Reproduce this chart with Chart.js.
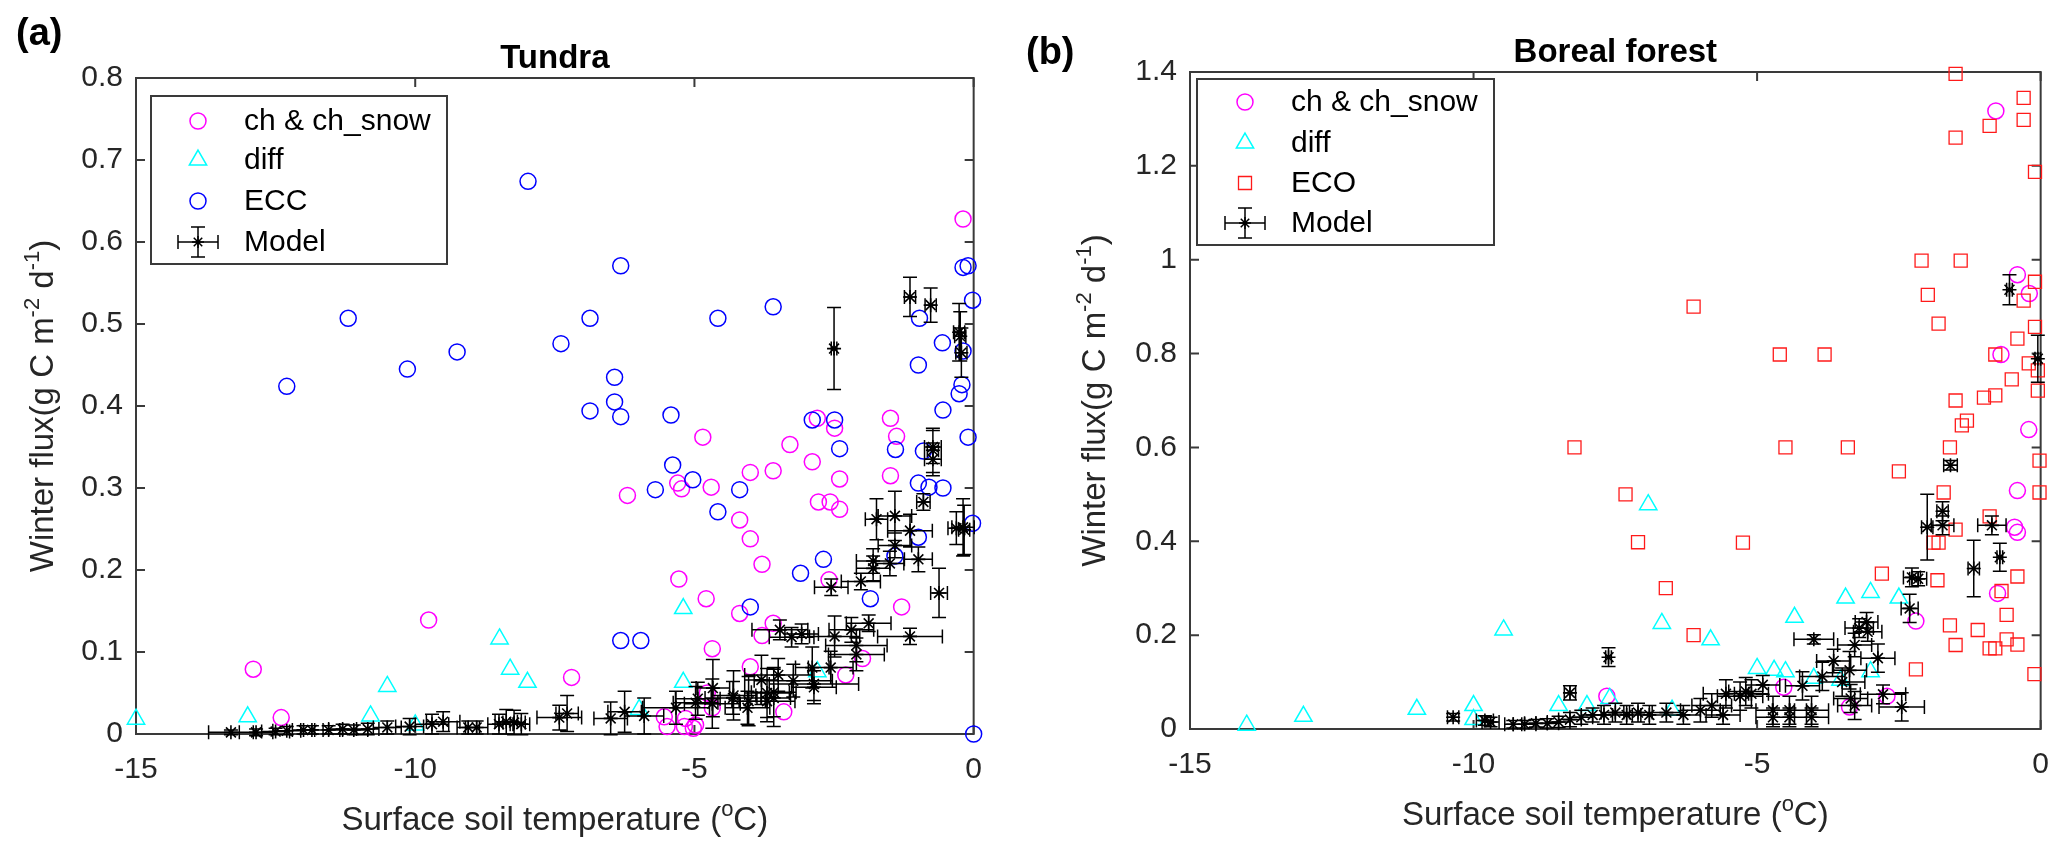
<!DOCTYPE html>
<html>
<head>
<meta charset="utf-8">
<title>Winter flux vs surface soil temperature</title>
<script src="https://cdn.jsdelivr.net/npm/chart.js@4.4.1/dist/chart.umd.min.js"></script>
<style>
  html, body { margin: 0; padding: 0; background: #fff; }
  body { width: 2067px; height: 859px; position: relative; overflow: hidden; }
  canvas { position: absolute; top: 0; }
  #tundra { left: 0; }
  #boreal { left: 1000px; }
</style>
</head>
<body>
<canvas id="tundra" width="1000" height="859"></canvas>
<canvas id="boreal" width="1067" height="859"></canvas>
<script>
// Tundra (a)
const tundraChX = [-0.19, -2.8, -2.49, -1.49, -1.38, -4.85, -3.29, -2.89, -4.0, -3.59, -2.4, -1.49, -5.23, -5.3, -4.7,
  -2.78, -2.57, -2.4, -4.19, -4.0, -3.79, -2.59, -5.28, -4.79, -4.19, -1.29, -3.59, -3.79, -4.68, -4.0, -1.99, -2.29,
  -4.77, -3.4, -4.68, -5.16, -4.98, -5.02, -6.2, -9.76, -12.9, -12.4, -7.2, -5.54, -5.49, -5.18];
const tundraChY = [0.628, 0.385, 0.373, 0.385, 0.363, 0.362, 0.353, 0.332, 0.319, 0.321, 0.311, 0.315, 0.299, 0.306, 0.301,
  0.283, 0.283, 0.274, 0.261, 0.238, 0.207, 0.188, 0.189, 0.165, 0.147, 0.155, 0.135, 0.12, 0.104, 0.082, 0.092, 0.072,
  0.05, 0.027, 0.032, 0.019, 0.011, 0.007, 0.291, 0.139, 0.079, 0.02, 0.069, 0.021, 0.009, 0.009];

const tundraDiffX = [-15.0, -13.0, -10.8, -10.5, -10.0, -8.49, -8.3, -7.99, -5.2, -5.2, -5.99, -2.8];
const tundraDiffY = [0.018, 0.021, 0.022, 0.058, 0.011, 0.116, 0.079, 0.063, 0.153, 0.063, 0.03, 0.076];

const tundraEccX = [-7.98, -11.2, -12.3, -10.14, -9.25, -6.32, -6.87, -7.39, -6.43, -6.43, -6.87, -6.32, -5.42, -5.39,
  -5.7, -0.19, -0.1, -0.02, -4.58, -3.59, -0.97, -0.56, -0.99, -0.19, -0.21, -0.26, -0.55, -0.1, -2.89, -2.49, -2.4,
  -1.4, -0.9, -0.99, -0.8, -0.55, -5.03, -4.19, -4.58, -0.02, -0.99, -2.69, -3.1, -1.41, -1.85, -4.0, 0, -6.32, -5.96];
const tundraEccY = [0.674, 0.507, 0.424, 0.445, 0.466, 0.571, 0.507, 0.476, 0.435, 0.405, 0.394, 0.387, 0.389, 0.328,
  0.298, 0.569, 0.571, 0.529, 0.507, 0.521, 0.507, 0.477, 0.45, 0.467, 0.426, 0.415, 0.395, 0.362, 0.383, 0.383, 0.348,
  0.347, 0.345, 0.306, 0.301, 0.30, 0.31, 0.298, 0.271, 0.257, 0.24, 0.213, 0.196, 0.217, 0.165, 0.155, 0.0, 0.114, 0.114];

const tundraModelX = [-13.3, -12.85, -12.5, -12.3, -12.0, -11.85, -11.55, -11.3, -11.1, -10.85, -10.5, -10.1, -9.7, -9.5,
  -9.05, -8.9, -8.5, -8.37, -8.23, -8.1, -7.42, -7.28, -6.5, -6.25, -5.9, -5.33, -4.98, -4.67, -4.31, -4.05, -3.8, -3.7,
  -3.7, -3.47, -0.73, -0.73, -0.73, -0.9, -1.74, -1.41, -1.14, -1.41, -0.99, -1.8, -1.8, -1.5, -2.02, -2.55, -0.62,
  -0.31, -0.19, -0.17, -1.88, -2.19, -3.26, -3.08, -2.49, -1.14, -2.1, -2.1, -2.89, -2.56, -2.86, -2.86, -3.23, -3.5,
  -3.58, -3.58, -4.3, -4.03, -4.68, -4.94, -2.5, -1.14, -0.77, -0.26, -0.24, -0.22];
const tundraModelY = [0.002, 0.002, 0.003, 0.004, 0.005, 0.005, 0.005, 0.006, 0.005, 0.006, 0.008, 0.009, 0.012, 0.015,
  0.008, 0.008, 0.012, 0.015, 0.014, 0.012, 0.02, 0.025, 0.019, 0.027, 0.022, 0.032, 0.038, 0.056, 0.044, 0.032, 0.066, 0.05,
  0.04, 0.127, 0.35, 0.346, 0.335, 0.283, 0.262, 0.266, 0.248, 0.23, 0.213, 0.211, 0.202, 0.208, 0.186, 0.179, 0.172,
  0.251, 0.252, 0.249, 0.135, 0.127, 0.118, 0.122, 0.119, 0.119, 0.108, 0.097, 0.081, 0.081, 0.061, 0.057, 0.065, 0.072,
  0.051, 0.044, 0.047, 0.04, 0.037, 0.043, 0.47, 0.533, 0.523, 0.49, 0.485, 0.465];
const tundraModelXErr = [0.4, 0.3, 0.25, 0.25, 0.2, 0.2, 0.25, 0.25, 0.25, 0.2, 0.25, 0.25, 0.3, 0.3,
  0.2, 0.2, 0.2, 0.2, 0.2, 0.15, 0.4, 0.2, 0.3, 0.3, 0.35, 0.6, 0.4, 0.3, 0.5, 0.4, 0.3, 0.4,
  0.5, 0.5, 0.15, 0.1, 0.15, 0.12, 0.2, 0.3, 0.4, 0.3, 0.25, 0.3, 0.3, 0.25, 0.35, 0.3, 0.15,
  0.15, 0.2, 0.1, 0.4, 0.4, 0.4, 0.3, 0.45, 0.58, 0.55, 0.5, 0.3, 0.4, 0.8, 0.4, 0.7, 0.6,
  0.4, 0.3, 0.4, 0.3, 0.5, 0.4, 0.05, 0.1, 0.1, 0.1, 0.1, 0.1];
const tundraModelYErr = [0.003, 0.004, 0.004, 0.005, 0.005, 0.005, 0.005, 0.006, 0.006, 0.007, 0.008, 0.01, 0.012, 0.012,
  0.008, 0.008, 0.012, 0.015, 0.015, 0.013, 0.015, 0.022, 0.02, 0.025, 0.022, 0.02, 0.02, 0.035, 0.02, 0.02, 0.03, 0.03,
  0.025, 0.012, 0.02, 0.027, 0.02, 0.01, 0.025, 0.03, 0.02, 0.015, 0.015, 0.015, 0.015, 0.015, 0.01, 0.01, 0.03,
  0.02, 0.035, 0.03, 0.01, 0.015, 0.012, 0.012, 0.025, 0.01, 0.02, 0.02, 0.025, 0.02, 0.02, 0.02, 0.02, 0.02,
  0.03, 0.035, 0.03, 0.03, 0.03, 0.02, 0.05, 0.024, 0.021, 0.035, 0.03, 0.03];

// Boreal forest (b)
const borealChX = [-0.79, -0.41, -0.2, -0.7, -0.21, -0.41, -0.46, -0.41, -0.76, -2.2, -2.71, -3.37, -4.53, -7.65];
const borealChY = [1.317, 0.968, 0.928, 0.798, 0.638, 0.508, 0.43, 0.419, 0.289, 0.23, 0.07, 0.047, 0.089, 0.07];

const borealDiffX = [-14.0, -13.0, -11.0, -10.0, -10.0, -9.47, -8.5, -8.0, -7.6, -6.92, -6.68, -5.82, -6.5, -3.44, -3.0,
  -2.5, -4.34, -5.0, -4.7, -4.5, -3.0, -4.0, -3.53];
const borealDiffY = [0.008, 0.027, 0.042, 0.05, 0.02, 0.211, 0.05, 0.05, 0.065, 0.478, 0.225, 0.19, 0.04, 0.279, 0.291,
  0.279, 0.238, 0.129, 0.125, 0.122, 0.122, 0.108, 0.104];

const borealEcoX = [-1.5, -0.3, -0.3, -0.9, -1.5, -0.1, -2.1, -1.41, -1.99, -1.8, -4.6, -3.81, -0.1, -0.3, -0.1, -0.41,
  -0.8, -0.21, -0.05, -0.05, -0.51, -1.5, -1.0, -0.8, -1.39, -1.3, -4.5, -3.4, -1.6, -0.02, -2.5, -1.71, -0.02, -0.9,
  -1.5, -1.89, -1.8, -5.25, -2.8, -1.82, -0.41, -0.69, -0.6, -1.6, -1.11, -1.5, -0.9, -0.8, -0.6, -0.41, -0.11, -2.2,
  -8.22, -7.32, -7.1, -6.61, -6.12, -6.12];
const borealEcoY = [1.396, 1.345, 1.298, 1.285, 1.26, 1.187, 0.998, 0.998, 0.925, 0.864, 0.798, 0.798, 0.953, 0.913, 0.857,
  0.832, 0.798, 0.779, 0.764, 0.721, 0.745, 0.70, 0.706, 0.711, 0.647, 0.657, 0.60, 0.60, 0.60, 0.572, 0.549, 0.504, 0.504,
  0.453, 0.425, 0.397, 0.397, 0.397, 0.331, 0.317, 0.325, 0.294, 0.243, 0.221, 0.211, 0.179, 0.172, 0.172, 0.191, 0.18,
  0.117, 0.127, 0.60, 0.50, 0.398, 0.30, 0.20, 0.90];

const borealModelX = [-0.55, -0.05, -1.59, -1.73, -1.73, -2.0, -0.86, -1.18, -0.72, -2.27, -2.16, -2.31, -3.07, -3.2,
  -3.05, -3.28, -4.0, -2.87, -3.65, -3.37, -3.85, -3.5, -4.2, -2.78, -2.45, -4.9, -5.2, -5.1, -4.72, -4.43, -4.04, -3.35,
  -3.28, -4.04, -4.43, -4.72, -7.62, -8.3, -10.36, -9.8, -9.7, -9.3, -9.1, -8.9, -8.7, -8.5, -8.3, -8.1, -7.9, -7.7,
  -7.5, -7.3, -7.1, -6.9, -6.6, -6.3, -6.0, -5.8, -5.55, -5.3, -5.6];
const borealModelY = [0.936, 0.789, 0.562, 0.464, 0.434, 0.43, 0.434, 0.342, 0.366, 0.323, 0.32, 0.257, 0.228, 0.215,
  0.207, 0.179, 0.191, 0.151, 0.145, 0.125, 0.112, 0.1, 0.092, 0.074, 0.047, 0.094, 0.08, 0.075, 0.04, 0.04, 0.04, 0.065,
  0.05, 0.025, 0.025, 0.025, 0.153, 0.077, 0.025, 0.018, 0.015, 0.01, 0.01, 0.012, 0.012, 0.015, 0.02, 0.025, 0.03, 0.03,
  0.035, 0.03, 0.035, 0.03, 0.035, 0.03, 0.04, 0.05, 0.075, 0.07, 0.03];
const borealModelXErr = [0.05, 0.05, 0.12, 0.1, 0.2, 0.1, 0.25, 0.1, 0.05, 0.15, 0.15, 0.15, 0.2, 0.25,
  0.25, 0.3, 0.35, 0.3, 0.3, 0.3, 0.4, 0.4, 0.3, 0.4, 0.4, 0.3, 0.3, 0.3, 0.3, 0.3, 0.3, 0.3,
  0.3, 0.3, 0.3, 0.3, 0.05, 0.1, 0.1, 0.15, 0.15, 0.15, 0.2, 0.2, 0.2, 0.2, 0.2, 0.2, 0.2, 0.2,
  0.25, 0.25, 0.25, 0.3, 0.3, 0.3, 0.35, 0.35, 0.4, 0.4, 0.3];
const borealModelYErr = [0.032, 0.05, 0.01, 0.02, 0.02, 0.07, 0.02, 0.06, 0.03, 0.02, 0.015, 0.03, 0.02, 0.02,
  0.02, 0.025, 0.01, 0.03, 0.025, 0.04, 0.03, 0.03, 0.03, 0.02, 0.03, 0.02, 0.03, 0.03, 0.03, 0.03, 0.03, 0.03,
  0.03, 0.02, 0.02, 0.02, 0.02, 0.015, 0.008, 0.01, 0.01, 0.008, 0.008, 0.008, 0.01, 0.012, 0.015, 0.015, 0.015, 0.02,
  0.02, 0.02, 0.02, 0.02, 0.02, 0.02, 0.025, 0.025, 0.03, 0.03, 0.02];

const FONT = "'Liberation Sans', Arial, Helvetica, sans-serif";
const INK = '#262626';
const FRAME = '#3a3a3a';
const STAR_R = 7;

function toPts(xs, ys) {
  return xs.map((x, i) => ({ x: x, y: ys[i] }));
}

// text with superscript pieces, centred at (0,0) of the current transform
function drawRich(ctx, parts, size) {
  const supSize = Math.round(size * 0.68);
  let total = 0;
  parts.forEach(p => {
    ctx.font = (p.sup ? supSize : size) + 'px ' + FONT;
    p.w = ctx.measureText(p.t).width;
    total += p.w;
  });
  let x = -total / 2;
  ctx.textBaseline = 'alphabetic';
  ctx.textAlign = 'left';
  parts.forEach(p => {
    ctx.font = (p.sup ? supSize : size) + 'px ' + FONT;
    ctx.fillText(p.t, x, p.sup ? -size * 0.42 : 0);
    x += p.w;
  });
}

function makePanel(id, p) {
  const canvas = document.getElementById(id);
  const W = canvas.width, H = canvas.height;
  const a = p.area;

  const series = [
    { label: 'ch & ch_snow', style: 'circle', radius: 8, color: '#ff00ff', width: 1.5 },
    { label: 'diff', style: 'triangle', radius: 10, color: '#00ffff', width: 1.5 },
    { label: p.obsLabel, style: p.obsStyle, radius: p.obsRadius, color: p.obsColor, width: p.obsWidth }
  ];

  const framePlugin = {
    id: 'frame',
    beforeDatasetsDraw(chart) {
      const ctx = chart.ctx, ca = chart.chartArea;
      const xs = chart.scales.x, ys = chart.scales.y;
      ctx.save();
      ctx.strokeStyle = FRAME;
      ctx.lineWidth = 2;
      ctx.strokeRect(ca.left, ca.top, ca.right - ca.left, ca.bottom - ca.top);
      ctx.beginPath();
      xs.ticks.forEach(t => {
        const px = xs.getPixelForValue(t.value);
        ctx.moveTo(px, ca.bottom); ctx.lineTo(px, ca.bottom - 9);
        ctx.moveTo(px, ca.top); ctx.lineTo(px, ca.top + 9);
      });
      ys.ticks.forEach(t => {
        const py = ys.getPixelForValue(t.value);
        ctx.moveTo(ca.left, py); ctx.lineTo(ca.left + 9, py);
        ctx.moveTo(ca.right, py); ctx.lineTo(ca.right - 9, py);
      });
      ctx.stroke();
      ctx.restore();
    }
  };

  const errorPlugin = {
    id: 'errorbars',
    afterDatasetsDraw(chart) {
      const ctx = chart.ctx;
      const xs = chart.scales.x, ys = chart.scales.y;
      const cap = 7;
      ctx.save();
      ctx.strokeStyle = '#000';
      ctx.lineWidth = 1.5;
      ctx.beginPath();
      p.modelX.forEach((x, i) => {
        const y = p.modelY[i];
        const cx = xs.getPixelForValue(x), cy = ys.getPixelForValue(y);
        const x0 = xs.getPixelForValue(x - p.modelXErr[i]), x1 = xs.getPixelForValue(x + p.modelXErr[i]);
        const y0 = ys.getPixelForValue(y - p.modelYErr[i]), y1 = ys.getPixelForValue(y + p.modelYErr[i]);
        ctx.moveTo(x0, cy); ctx.lineTo(x1, cy);
        ctx.moveTo(x0, cy - cap); ctx.lineTo(x0, cy + cap);
        ctx.moveTo(x1, cy - cap); ctx.lineTo(x1, cy + cap);
        ctx.moveTo(cx, y0); ctx.lineTo(cx, y1);
        ctx.moveTo(cx - cap, y0); ctx.lineTo(cx + cap, y0);
        ctx.moveTo(cx - cap, y1); ctx.lineTo(cx + cap, y1);
      });
      ctx.stroke();
      ctx.restore();
    }
  };

  const textPlugin = {
    id: 'texts',
    afterDraw(chart) {
      const ctx = chart.ctx, ca = chart.chartArea;
      const midX = (ca.left + ca.right) / 2, midY = (ca.top + ca.bottom) / 2;
      ctx.save();
      ctx.fillStyle = '#000';
      ctx.textBaseline = 'alphabetic';
      ctx.font = 'bold 38px ' + FONT;
      ctx.textAlign = 'left';
      ctx.fillText(p.tag, p.tagX, p.tagY);
      ctx.font = 'bold 33px ' + FONT;
      ctx.textAlign = 'center';
      ctx.fillText(p.title, midX, ca.top - 10);

      ctx.fillStyle = INK;
      ctx.save();
      ctx.translate(midX, ca.bottom + 96);
      drawRich(ctx, [{ t: 'Surface soil temperature (' }, { t: 'o', sup: true }, { t: 'C)' }], 33);
      ctx.restore();

      ctx.save();
      ctx.translate(p.yTitleX + 12, midY);
      ctx.rotate(-Math.PI / 2);
      drawRich(ctx, [{ t: 'Winter flux(g C m' }, { t: '-2', sup: true }, { t: ' d' }, { t: '-1', sup: true }, { t: ')' }], 33);
      ctx.restore();
      ctx.restore();
    }
  };

  const legendPlugin = {
    id: 'boxLegend',
    afterDraw(chart) {
      const ctx = chart.ctx, L = p.legend;
      ctx.save();
      ctx.fillStyle = '#fff';
      ctx.fillRect(L.x, L.y, L.w, L.h);
      ctx.strokeStyle = FRAME;
      ctx.lineWidth = 2;
      ctx.strokeRect(L.x, L.y, L.w, L.h);
      series.forEach((s, i) => {
        ctx.strokeStyle = s.color;
        ctx.fillStyle = 'rgba(0,0,0,0)';
        ctx.lineWidth = s.width;
        Chart.helpers.drawPoint(ctx, { pointStyle: s.style, radius: s.radius, rotation: 0, borderWidth: s.width },
          L.markX, L.rows[i]);
      });
      // model entry: asterisk with error bars
      const mx = L.markX, my = L.rows[3];
      ctx.strokeStyle = '#000';
      ctx.lineWidth = 1.5;
      ctx.beginPath();
      ctx.moveTo(mx - 20, my); ctx.lineTo(mx + 20, my);
      ctx.moveTo(mx - 20, my - 7); ctx.lineTo(mx - 20, my + 7);
      ctx.moveTo(mx + 20, my - 7); ctx.lineTo(mx + 20, my + 7);
      ctx.moveTo(mx, my - 15); ctx.lineTo(mx, my + 15);
      ctx.moveTo(mx - 7, my - 15); ctx.lineTo(mx + 7, my - 15);
      ctx.moveTo(mx - 7, my + 15); ctx.lineTo(mx + 7, my + 15);
      ctx.stroke();
      Chart.helpers.drawPoint(ctx, { pointStyle: 'star', radius: STAR_R - 1, rotation: 0, borderWidth: 1.5 }, mx, my);

      ctx.fillStyle = '#000';
      ctx.font = '30px ' + FONT;
      ctx.textAlign = 'left';
      ctx.textBaseline = 'middle';
      const labels = series.map(s => s.label).concat(['Model']);
      labels.forEach((t, i) => ctx.fillText(t, L.textX, L.rows[i] + 1));
      ctx.restore();
    }
  };

  const obsSet = (s, xs, ys) => ({
    label: s.label, data: toPts(xs, ys), showLine: false, clip: false,
    pointStyle: s.style, pointRadius: s.radius, pointBorderColor: s.color,
    pointBorderWidth: s.width, pointBackgroundColor: 'rgba(0,0,0,0)'
  });

  return new Chart(canvas, {
    type: 'scatter',
    data: {
      datasets: [
        {
          label: 'Model', data: toPts(p.modelX, p.modelY), showLine: false, clip: false, order: 0,
          pointStyle: 'star', pointRadius: STAR_R, pointBorderColor: '#000', pointBorderWidth: 1.6,
          pointBackgroundColor: '#000'
        },
        Object.assign(obsSet(series[2], p.obsX, p.obsY), { order: 1 }),
        Object.assign(obsSet(series[1], p.diffX, p.diffY), { order: 2 }),
        Object.assign(obsSet(series[0], p.chX, p.chY), { order: 3 })
      ]
    },
    options: {
      responsive: false,
      animation: false,
      events: [],
      layout: { padding: { top: a.top, right: W - a.right, left: 0, bottom: 0 } },
      plugins: { legend: { display: false }, tooltip: { enabled: false } },
      scales: {
        x: {
          type: 'linear', min: -15, max: 0,
          grid: { display: false, drawTicks: false },
          border: { display: false },
          ticks: {
            stepSize: 5, padding: 18, maxRotation: 0, color: INK,
            font: { family: FONT, size: 30 },
            callback: v => String(v)
          },
          afterFit: s => { s.height = H - a.bottom; }
        },
        y: {
          type: 'linear', min: 0, max: p.yMax,
          grid: { display: false, drawTicks: false },
          border: { display: false },
          ticks: {
            stepSize: p.yStep, padding: 13, color: INK,
            font: { family: FONT, size: 30 },
            callback: v => String(+v.toFixed(2))
          },
          afterFit: s => { s.width = a.left; }
        }
      }
    },
    plugins: [framePlugin, errorPlugin, legendPlugin, textPlugin]
  });
}

makePanel('tundra', {
  area: { left: 136, top: 78, right: 988, bottom: 734 },
  yMax: 0.8, yStep: 0.1,
  title: 'Tundra', tag: '(a)', tagX: 16, tagY: 45, yTitleX: 41,
  chX: tundraChX, chY: tundraChY, diffX: tundraDiffX, diffY: tundraDiffY,
  obsX: tundraEccX, obsY: tundraEccY, obsLabel: 'ECC', obsStyle: 'circle', obsRadius: 8, obsColor: '#0000ff', obsWidth: 1.5,
  modelX: tundraModelX, modelY: tundraModelY, modelXErr: tundraModelXErr, modelYErr: tundraModelYErr,
  legend: { x: 151, y: 96, w: 296, h: 168, rows: [121, 160, 201, 242], markX: 198, textX: 244 }
});

makePanel('boreal', {
  area: { left: 190, top: 72, right: 1041, bottom: 729 },
  yMax: 1.4, yStep: 0.2,
  title: 'Boreal forest', tag: '(b)', tagX: 26, tagY: 64, yTitleX: 93,
  chX: borealChX, chY: borealChY, diffX: borealDiffX, diffY: borealDiffY,
  obsX: borealEcoX, obsY: borealEcoY, obsLabel: 'ECO', obsStyle: 'rect', obsRadius: 9.2, obsColor: '#ff1a1a', obsWidth: 1.3,
  modelX: borealModelX, modelY: borealModelY, modelXErr: borealModelXErr, modelYErr: borealModelYErr,
  legend: { x: 197, y: 79, w: 297, h: 166, rows: [102, 143, 183, 223], markX: 245, textX: 291 }
});
</script>
</body>
</html>
